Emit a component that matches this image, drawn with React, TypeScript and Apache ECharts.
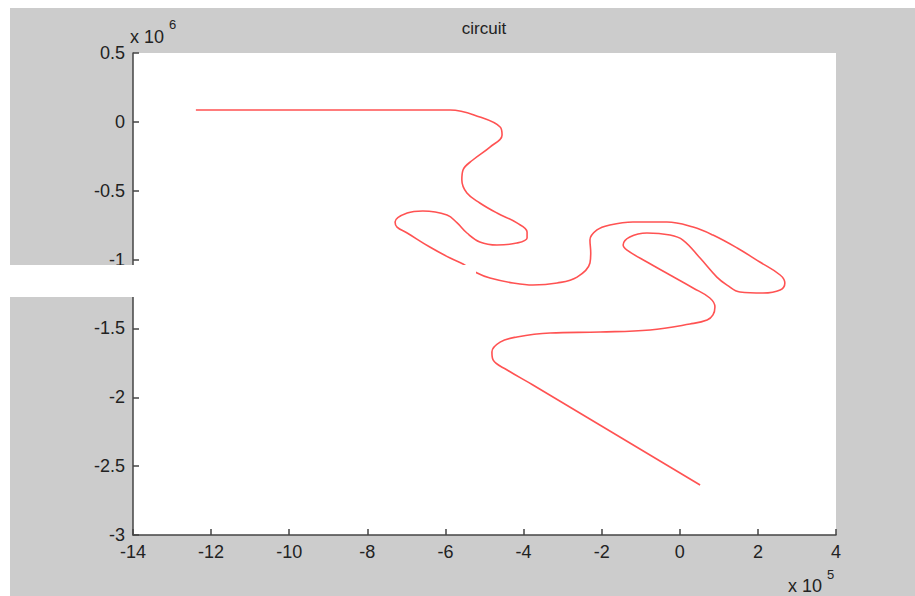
import React, { useEffect, useRef } from "react";
import * as echarts from "echarts";

// x in units of 1e5, y in units of 1e6
const pathX = [
  -12.39, -5.88, -5.12, -4.6, -4.55, -4.86, -5.3, -5.55, -5.58, -5.45, -5.12, -4.68, -4.17, -3.91,
  -3.91, -4.17, -4.68, -5.12, -5.45, -5.7, -5.96, -6.58, -6.98, -7.29, -7.24, -6.98, -6.4, -5.88,
  -5.55, -5.19, -4.86, -4.27, -3.76, -3.14, -2.63, -2.3, -2.28, -2.3, -2.12, -1.79, -1.2,
  -0.33, 0.34, 0.85, 1.47, 2.05, 2.57, 2.69, 2.57, 2.13, 1.54, 1.21, 0.95, 0.52, 0.08, -0.25,
  -0.84, -1.28, -1.45, -1.35, -0.84, -0.25, 0.34, 0.77, 0.9, 0.85, 0.7, 0.26, -0.76, -2.04, -3.32,
  -4.17, -4.6, -4.81, -4.78, -4.42, -3.76, 0.52,
];
const pathY = [
  0.086, 0.086, 0.035, -0.037, -0.095, -0.183, -0.277, -0.35, -0.422, -0.517, -0.589, -0.662, -0.734,
  -0.8, -0.843, -0.88, -0.894, -0.872, -0.807, -0.734, -0.676, -0.647, -0.662, -0.727, -0.764, -0.807,
  -0.909, -0.989, -1.032, -1.098, -1.134, -1.17, -1.185, -1.17, -1.127, -1.025, -0.95, -0.858,
  -0.785, -0.749, -0.727, -0.727, -0.764, -0.822, -0.916, -1.018, -1.112, -1.17, -1.221, -1.243, -1.236,
  -1.185, -1.127, -0.989, -0.858, -0.822, -0.807, -0.836, -0.894, -0.931, -1.018, -1.112, -1.206,
  -1.279, -1.344, -1.402, -1.439, -1.468, -1.511, -1.526, -1.533, -1.562, -1.599, -1.671, -1.729, -1.802,
  -1.911, -2.637,
];
const titleText = "circuit";
const xMin = -14, xMax = 4, xStep = 2;
const yMin = -3, yMax = 0.5, yStep = 0.5;

const FONT = "'Liberation Sans', Arial, Helvetica, sans-serif";

export default function App() {
  const ref = useRef<HTMLDivElement>(null);
  useEffect(() => {
    if (!ref.current) return;
    const chart = echarts.init(ref.current, undefined, { renderer: "svg" });
    const data = pathX.map((x, i) => [x, pathY[i]]);
    const axisCommon = {
      axisLine: { show: true, onZero: false, lineStyle: { color: "#444", width: 1.5 } },
      axisTick: { show: true, inside: true, length: 6, lineStyle: { color: "#444", width: 1.5 } },
      splitLine: { show: false },
      axisLabel: { color: "#222", fontSize: 18, fontFamily: FONT },
    };
    chart.setOption({
      animation: false,
      backgroundColor: "#cccccc",
      grid: {
        left: 123,
        top: 45,
        width: 703,
        height: 482,
        show: true,
        backgroundColor: "#ffffff",
        borderWidth: 0,
      },
      xAxis: {
        type: "value",
        min: xMin,
        max: xMax,
        interval: xStep,
        ...axisCommon,
        axisLabel: { ...axisCommon.axisLabel, margin: 8 },
      },
      yAxis: {
        type: "value",
        min: yMin,
        max: yMax,
        interval: yStep,
        ...axisCommon,
        axisLabel: { ...axisCommon.axisLabel, margin: 8 },
      },
      series: [
        {
          type: "line",
          data,
          smooth: 0.4,
          showSymbol: false,
          symbol: "none",
          lineStyle: { color: "#ff5252", width: 1.6 },
        },
      ],
      graphic: [
        {
          type: "rect",
          z: 100,
          shape: { x: -10, y: 257, width: 476, height: 32 },
          style: { fill: "#ffffff" },
        },
        {
          type: "text",
          z: 101,
          x: 474,
          y: 20,
          style: { text: titleText, fontSize: 17, fontFamily: FONT, fill: "#222", align: "center", verticalAlign: "middle" },
        },
        {
          type: "text",
          z: 101,
          x: 120,
          y: 29,
          style: { text: "x 10", fontSize: 18, fontFamily: FONT, fill: "#222", align: "left", verticalAlign: "middle" },
        },
        {
          type: "text",
          z: 101,
          x: 159,
          y: 16,
          style: { text: "6", fontSize: 13, fontFamily: FONT, fill: "#222", align: "left", verticalAlign: "middle" },
        },
        {
          type: "text",
          z: 101,
          x: 778,
          y: 578,
          style: { text: "x 10", fontSize: 18, fontFamily: FONT, fill: "#222", align: "left", verticalAlign: "middle" },
        },
        {
          type: "text",
          z: 101,
          x: 817,
          y: 566,
          style: { text: "5", fontSize: 13, fontFamily: FONT, fill: "#222", align: "left", verticalAlign: "middle" },
        },
      ],
    });
    return () => chart.dispose();
  }, []);
  return (
    <div style={{ position: "absolute", left: 0, top: 0, width: 915, height: 596, background: "#ffffff", overflow: "hidden" }}>
      <div ref={ref} style={{ position: "absolute", left: 10, top: 8, width: 905, height: 588 }} />
    </div>
  );
}
